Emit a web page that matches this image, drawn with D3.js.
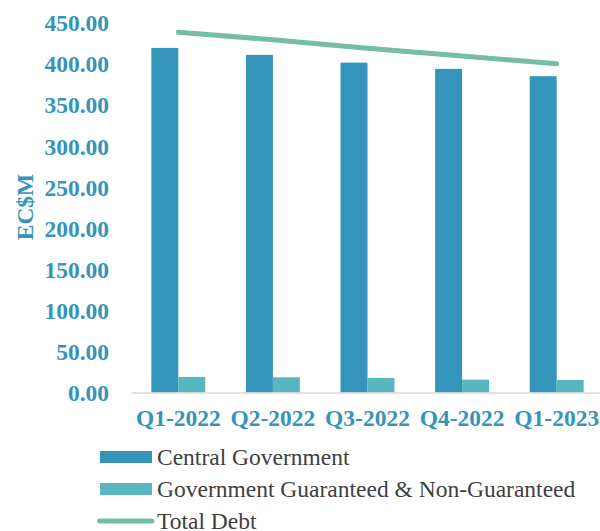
<!DOCTYPE html>
<html>
<head>
<meta charset="utf-8">
<script src="https://cdn.jsdelivr.net/npm/d3@7"></script>
<style>
  body { margin: 0; background: #fff; }
  svg { display: block; }
</style>
</head>
<body>
<div id="wrapper"></div>
<script>
// data
const quarters = ["Q1-2022", "Q2-2022", "Q3-2022", "Q4-2022", "Q1-2023"]
const centralGovernment = [419.1, 410.6, 401.2, 393.6, 384.7]
const guaranteed = [18.9, 18.5, 17.6, 15.6, 15.2]
const totalDebt = centralGovernment.map((d, i) => d + guaranteed[i])
const yTicks = [0, 50, 100, 150, 200, 250, 300, 350, 400, 450]

const seriesNames = ["Central Government", "Government Guaranteed & Non-Guaranteed"]
const colors = {
  central: "#3494ba",
  guaranteed: "#58b6c0",
  total: "#75bda7",
  label: "#3494ba",
  legend: "#404040",
}

const dimensions = {
  width: 600,
  height: 531,
  plotLeft: 131,
  plotRight: 604,
  plotTop: 22.5,
  plotBottom: 392.5,
}

const rows = quarters.map((q, i) => ({
  quarter: q,
  values: [centralGovernment[i], guaranteed[i]],
  total: totalDebt[i],
}))

const svg = d3.select("#wrapper")
  .append("svg")
    .attr("width", dimensions.width)
    .attr("height", dimensions.height)
    .style("font-family", "'Liberation Serif', 'Times New Roman', serif")

// scales
const xScale = d3.scaleBand()
  .domain(quarters)
  .range([dimensions.plotLeft, dimensions.plotRight])
  .paddingInner(0.43)
  .paddingOuter(0.215)

const xSub = d3.scaleBand()
  .domain([0, 1])
  .range([0, xScale.bandwidth()])

const yScale = d3.scaleLinear()
  .domain([0, 450])
  .range([dimensions.plotBottom, dimensions.plotTop])

const seriesColor = [colors.central, colors.guaranteed]

// bars
const groups = svg.append("g")
  .selectAll("g")
  .data(rows)
  .join("g")
    .attr("transform", d => `translate(${xScale(d.quarter)},0)`)

groups.selectAll("rect")
  .data(d => d.values.map((v, i) => ({ i, v })))
  .join("rect")
    .attr("x", d => xSub(d.i))
    .attr("width", xSub.bandwidth())
    .attr("y", d => yScale(d.v))
    .attr("height", d => yScale(0) - yScale(d.v))
    .attr("fill", d => seriesColor[d.i])

// x axis
const xAxis = svg.append("g")
  .attr("transform", `translate(0,${dimensions.plotBottom})`)
  .call(d3.axisBottom(xScale).tickSize(0).tickSizeOuter(0).tickPadding(10))

xAxis.select(".domain")
  .attr("stroke", "#d9d9d9")
  .attr("stroke-width", 1.5)

xAxis.selectAll("text")
  .attr("y", 33)
  .attr("dy", 0)
  .attr("fill", colors.label)
  .style("font-size", "23.5px")
  .style("font-weight", "bold")
  .style("font-family", "'Liberation Serif', 'Times New Roman', serif")

// y axis
const yAxis = svg.append("g")
  .attr("transform", "translate(115,0)")
  .call(d3.axisLeft(yScale).tickValues(yTicks).tickFormat(d3.format(".2f")).tickSize(0).tickPadding(6))

yAxis.select(".domain").remove()
yAxis.selectAll("text")
  .attr("fill", colors.label)
  .attr("dy", "0.35em")
  .style("font-size", "23.5px")
  .style("font-weight", "bold")
  .style("font-family", "'Liberation Serif', 'Times New Roman', serif")

svg.append("text")
  .attr("transform", "translate(33,207) rotate(-90)")
  .attr("text-anchor", "middle")
  .attr("fill", colors.label)
  .style("font-size", "23.5px")
  .style("font-weight", "bold")
  .text("EC$M")

// total debt line
const line = d3.line()
  .x(d => xScale(d.quarter) + xScale.bandwidth() / 2)
  .y(d => yScale(d.total))

svg.append("path")
  .datum(rows)
  .attr("d", line)
  .attr("fill", "none")
  .attr("stroke", colors.total)
  .attr("stroke-width", 5)
  .attr("stroke-linecap", "round")

// legend
const legend = svg.append("g")
const legendItems = [
  { name: seriesNames[0], color: colors.central, type: "rect" },
  { name: seriesNames[1], color: colors.guaranteed, type: "rect" },
  { name: "Total Debt", color: colors.total, type: "line" },
]

const legendRow = legend.selectAll("g")
  .data(legendItems)
  .join("g")
    .attr("transform", (d, i) => `translate(0,${457 + i * 32})`)

legendRow.filter(d => d.type === "rect")
  .append("rect")
    .attr("x", 100)
    .attr("y", -6)
    .attr("width", 52)
    .attr("height", 12)
    .attr("fill", d => d.color)

legendRow.filter(d => d.type === "line")
  .append("line")
    .attr("x1", 99.5)
    .attr("x2", 152)
    .attr("y1", 0)
    .attr("y2", 0)
    .attr("stroke", d => d.color)
    .attr("stroke-width", 5)
    .attr("stroke-linecap", "round")

legendRow.append("text")
  .attr("x", 157)
  .attr("y", 8)
  .attr("fill", colors.legend)
  .style("font-size", "23.5px")
  .text(d => d.name)
</script>
</body>
</html>
